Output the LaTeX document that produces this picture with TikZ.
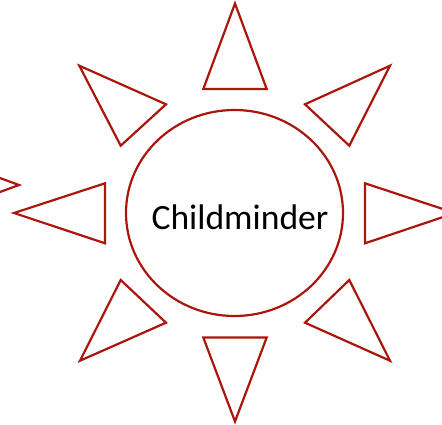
\documentclass[tikz,border=0pt]{standalone}
\usepackage{fontspec}
\setmainfont{Carlito}
\usetikzlibrary{shapes.geometric}
\definecolor{sunred}{RGB}{170,22,12}
\begin{document}
\begin{tikzpicture}[x=1pt, y=-1pt, line join=miter,
	ray/.style={draw=sunred, line width=2.2pt},
	sunring/.style={ellipse, draw=sunred, line width=2.2pt, minimum width=217pt, minimum height=206pt, inner sep=0pt}]
	\useasboundingbox (0,0) rectangle (442,424);
	\clip (0,0) rectangle (442,424);
	% centre
	\node[sunring] (sun) at (234.5,213) {};
	\node[font=\fontsize{35.6}{40}\selectfont] (name) at (240,217) {Childminder};
	% rays
	\draw[ray] (235,3.5) -- (266.7,89) -- (203.3,89) -- cycle;
	\draw[ray] (235,421.5) -- (266.7,337.5) -- (203.3,337.5) -- cycle;
	\draw[ray] (14,213) -- (105,183.3) -- (105,243.3) -- cycle;
	\draw[ray] (455,213) -- (365,183.3) -- (365,243.3) -- cycle;
	\draw[ray] (79.3,65.7) -- (166,104.3) -- (120.7,145.7) -- cycle;
	\draw[ray] (390,65.7) -- (305,104.3) -- (349.3,145.7) -- cycle;
	\draw[ray] (80,360.7) -- (166,322.7) -- (120.7,280) -- cycle;
	\draw[ray] (390,360.7) -- (305,322.7) -- (349.3,280) -- cycle;
	% stray ray at the left edge
	\draw[ray] (19,185) -- (-60,156) -- (-60,214) -- cycle;
\end{tikzpicture}
\end{document}
